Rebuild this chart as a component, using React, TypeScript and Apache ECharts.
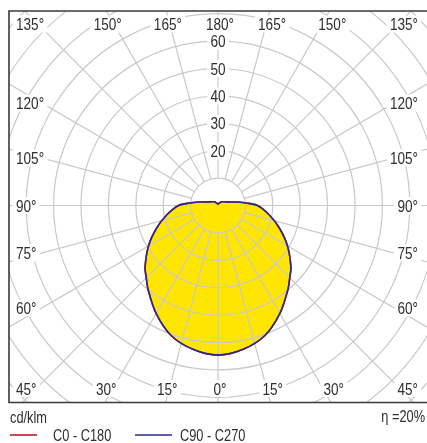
import React, { useEffect, useRef } from "react";
import * as echarts from "echarts";

// ---- data ----
const gammaAngles = [0, 10, 20, 30, 40, 45, 50, 60, 70, 80, 90, 95, 100, 105, 120, 135, 150, 165, 180];
const c0c180Values = [54.6, 53.3, 50.5, 45.5, 40, 37.3, 35, 29.5, 24, 19, 14.5, 10.5, 7.3, 5, 2.7, 1.9, 1.1, 0.7, 0.5];
const c90c270Values = [54.6, 53.3, 50.5, 45.5, 40, 37.3, 35, 29.5, 24, 19, 14.5, 10.5, 7.3, 5, 2.7, 1.9, 1.1, 0.7, 0.5];
const ringValues = [10, 20, 30, 40, 50, 60, 70, 80, 90, 100];
const ringLabelValues = [20, 30, 40, 50, 60];
const spokeAngles = [0, 15, 30, 45, 60, 75, 90, 105, 120, 135, 150, 165, 180, 195, 210, 225, 240, 255, 270, 285, 300, 315, 330, 345];
const angleTickLabels = [0, 15, 30, 45, 60, 75, 90, 105, 120, 135, 150, 165, 180];
const legendNames = ["C0 - C180", "C90 - C270"];
const unitLabel = "cd/klm";
const efficiencyLabel = "η =20%";

// ---- layout ----
const UNIT_PX = 2.74;
const CX = 219.5;
const CY = 205.5;
const FL = 9;
const FT = 11;
const FR = 430;
const FB = 402.5;
const FONT = "'Liberation Sans', Arial, sans-serif";
const NARROW = 0.8;
const PAD = 4;
const GRID = "#c9c9c9";
const TEXT = "#2e2e2e";
const RED = "#b81c36";
const NAVY = "#2b2a8c";
const YELLOW = "#ffe600";

const measureCtx = typeof document !== "undefined" ? document.createElement("canvas").getContext("2d") : null;
function textWidth(t: string, size: number) {
  if (!measureCtx) return t.length * size * 0.5 * NARROW;
  measureCtx.font = `${size}px ${FONT}`;
  return measureCtx.measureText(t).width * NARROW;
}

function toXY(angleDeg: number, r: number, side: number) {
  const a = (angleDeg * Math.PI) / 180;
  return [side * r * Math.sin(a), -r * Math.cos(a)];
}

function closedCurve(values: number[]) {
  const pts: number[][] = [];
  for (let i = 0; i < gammaAngles.length; i++) pts.push(toXY(gammaAngles[i], values[i], 1));
  for (let i = gammaAngles.length - 2; i >= 1; i--) pts.push(toXY(gammaAngles[i], values[i], -1));
  return pts;
}

function narrowText(text: string, x: number, y: number, size: number, align: string, extra: any = {}) {
  return {
    type: "text",
    x,
    y,
    scaleX: NARROW,
    style: {
      text,
      fill: TEXT,
      fontSize: size,
      fontFamily: FONT,
      align,
      verticalAlign: "middle",
      ...extra,
    },
  };
}

export default function App() {
  const ref = useRef<HTMLDivElement>(null);
  useEffect(() => {
    if (!ref.current) return;
    const chart = echarts.init(ref.current, undefined, { renderer: "svg" });

    const curveSeries = (values: number[], fill: string, stroke: string, z: number) => ({
      type: "custom",
      coordinateSystem: "cartesian2d",
      clip: true,
      z,
      silent: true,
      data: [[0, 0]],
      renderItem: (_params: any, api: any) => ({
        type: "polygon",
        shape: { points: closedCurve(values).map((p) => api.coord(p)), smooth: 0.3 },
        style: { fill, stroke, lineWidth: 1.6 },
      }),
    });

    const gridSeries = {
      type: "custom",
      coordinateSystem: "cartesian2d",
      clip: true,
      z: 2,
      silent: true,
      data: [[0, 0]],
      renderItem: (params: any, api: any) => {
        const c = api.coord([0, 0]);
        const cx = c[0];
        const cy = c[1];
        const cs = params.coordSys;
        const L = cs.x;
        const T = cs.y;
        const R = cs.x + cs.width;
        const B = cs.y + cs.height;
        const children: any[] = [];
        ringValues.forEach((v) => {
          const p = api.coord([0, v]);
          children.push({
            type: "circle",
            shape: { cx, cy, r: cy - p[1] },
            style: { fill: "none", stroke: GRID, lineWidth: 1.2 },
          });
        });
        spokeAngles.forEach((a) => {
          const p0 = api.coord(toXY(a, ringValues[0], 1));
          const p1 = api.coord(toXY(a, 130, 1));
          children.push({
            type: "line",
            shape: { x1: p0[0], y1: p0[1], x2: p1[0], y2: p1[1] },
            style: { stroke: GRID, lineWidth: 1.2 },
          });
        });
        ringLabelValues.forEach((v) => {
          const p = api.coord([0, v]);
          children.push(
            narrowText(String(v), cx, p[1], 17, "center", { backgroundColor: "#fff", padding: [0, PAD] })
          );
        });
        angleTickLabels.forEach((a) => {
          [1, -1].forEach((side) => {
            if ((a === 0 || a === 180) && side === -1) return;
            const rad = (a * Math.PI) / 180;
            const dx = side * Math.sin(rad);
            const dy = Math.cos(rad);
            const tx = dx > 1e-9 ? (R - cx) / dx : dx < -1e-9 ? (L - cx) / dx : Infinity;
            const ty = dy > 1e-9 ? (B - cy) / dy : dy < -1e-9 ? (T - cy) / dy : Infinity;
            const text = `${a}°`;
            const size = 17;
            const w = textWidth(text, size);
            const padPx = PAD * NARROW;
            let x: number;
            let y: number;
            let align = "center";
            if (ty <= tx) {
              const xi = cx + dx * ty;
              y = dy > 0 ? B - 14 : T + 13;
              x = Math.min(Math.max(xi + 2, L + 7 + w / 2), R - 9 - w / 2);
            } else {
              const yi = cy + dy * tx;
              y = cy + 0.85 * (yi - cy);
              if (dx < 0) {
                x = L + 7 - padPx;
                align = "left";
              } else {
                x = R - 9 + padPx;
                align = "right";
              }
            }
            children.push(narrowText(text, x, y, size, align, { backgroundColor: "#fff", padding: [0, PAD] }));
          });
        });
        return { type: "group", children };
      },
    };

    const xMin = -(CX - FL) / UNIT_PX;
    const xMax = (FR - CX) / UNIT_PX;
    const yMax = (CY - FT) / UNIT_PX;
    const yMin = -(FB - CY) / UNIT_PX;

    chart.setOption({
      animation: false,
      grid: { left: FL, top: FT, width: FR - FL, height: FB - FT, containLabel: false },
      xAxis: { type: "value", min: xMin, max: xMax, show: false },
      yAxis: { type: "value", min: yMin, max: yMax, show: false },
      series: [
        curveSeries(c0c180Values, YELLOW, "none", 1),
        gridSeries,
        curveSeries(c0c180Values, "none", RED, 3),
        curveSeries(c90c270Values, "none", NAVY, 4),
      ],
      graphic: [
        {
          type: "rect",
          z: 100,
          shape: { x: FL, y: FT, width: FR - FL, height: FB - FT },
          style: { fill: "none", stroke: "#3a3a3a", lineWidth: 1.6 },
        },
        narrowText(unitLabel, 10, 417, 16, "left"),
        narrowText(efficiencyLabel, 425, 416, 16, "right"),
        { type: "line", shape: { x1: 10, y1: 435, x2: 37, y2: 435 }, style: { stroke: RED, lineWidth: 1.6 } },
        narrowText(legendNames[0], 53, 435, 16, "left"),
        { type: "line", shape: { x1: 135, y1: 435, x2: 172, y2: 435 }, style: { stroke: NAVY, lineWidth: 1.6 } },
        narrowText(legendNames[1], 180, 435, 16, "left"),
      ],
    });
    return () => chart.dispose();
  }, []);
  return <div ref={ref} style={{ position: "fixed", left: 0, top: 0, width: 427, height: 443 }} />;
}
